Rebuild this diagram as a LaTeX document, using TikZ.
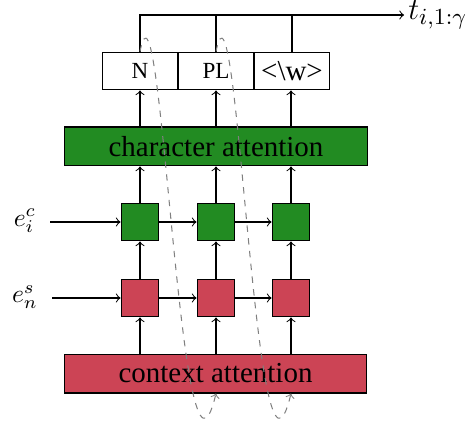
\documentclass[tikz,border=0pt]{standalone}
\usepackage{fontspec}
\setmainfont{Liberation Serif}
\definecolor{cgreen}{RGB}{34,139,34}
\definecolor{cred}{RGB}{204,68,85}
\begin{document}
\begin{tikzpicture}[x=0.39pt,y=-0.39pt,
  tokbox/.style={draw, inner sep=0pt, minimum width=29.6pt, minimum height=14.8pt},
  attbox/.style={draw, inner sep=0pt, minimum width=117.8pt, minimum height=15.2pt, font=\fontsize{11.3}{13}\selectfont},
  cell/.style={draw, inner sep=0pt, minimum width=14.8pt, minimum height=14.8pt},
  conn/.style={->},
  loopline/.style={->, gray, dash pattern=on 2.5pt off 2.5pt}]
\useasboundingbox (0,0) rectangle (474,425);

% token boxes
\node[tokbox, font=\fontsize{9}{11}\selectfont] (n1) at (140,71) {N};
\node[tokbox, font=\fontsize{9}{11}\selectfont] (n2) at (216,71) {PL};
\node[tokbox, font=\fontsize{11.3}{13}\selectfont] (n3) at (292,71) {<\textbackslash w>};

% attention bars
\node[attbox, fill=cgreen] (ca) at (216,146.5) {character attention};
\node[attbox, fill=cred] (cx) at (215.5,373.5) {context attention};

% cells
\node[cell, fill=cgreen] (g1) at (140,222) {};
\node[cell, fill=cgreen] (g2) at (216,222) {};
\node[cell, fill=cgreen] (g3) at (291,222) {};
\node[cell, fill=cred] (r1) at (140,298) {};
\node[cell, fill=cred] (r2) at (216,298) {};
\node[cell, fill=cred] (r3) at (291,298) {};

% labels
\node (ec) at (25,221) {$e_i^c$};
\node (es) at (25,297) {$e_n^s$};
\coordinate (ecs) at (50,222);
\coordinate (ess) at (52,298);
\node[anchor=west, inner sep=1.5pt] (t) at (404,15) {\fontsize{13}{15}\selectfont $t_{i,1:\gamma}$};

% output line
\draw[conn] (n1.north) |- (t.west);
\draw (n2.north) -- (n2.north |- t.west);
\draw (n3.north) -- (n3.north |- t.west);

% vertical connectors
\draw[conn] (ca.north -| g1) -- (n1.south -| g1);
\draw[conn] (ca.north -| g2) -- (n2.south -| g2);
\draw[conn] (ca.north -| g3) -- (n3.south -| g3);
\foreach \i in {1,2,3}{
  \draw[conn] (g\i.north) -- (ca.south -| g\i);
  \draw[conn] (r\i.north) -- (g\i.south);
  \draw[conn] (cx.north -| r\i) -- (r\i.south);
}

% horizontal connectors
\draw[conn] (ecs) -- (g1.west);
\draw[conn] (g1.east) -- (g2.west);
\draw[conn] (g2.east) -- (g3.west);
\draw[conn] (ess) -- (r1.west);
\draw[conn] (r1.east) -- (r2.west);
\draw[conn] (r2.east) -- (r3.west);

% dashed loops
\draw[loopline] (n1.north) .. controls +(22,-110) and +(-36,150) .. (cx.south -| g2);
\draw[loopline] (n2.north) .. controls +(22,-110) and +(-36,150) .. (cx.south -| g3);
\end{tikzpicture}
\end{document}
